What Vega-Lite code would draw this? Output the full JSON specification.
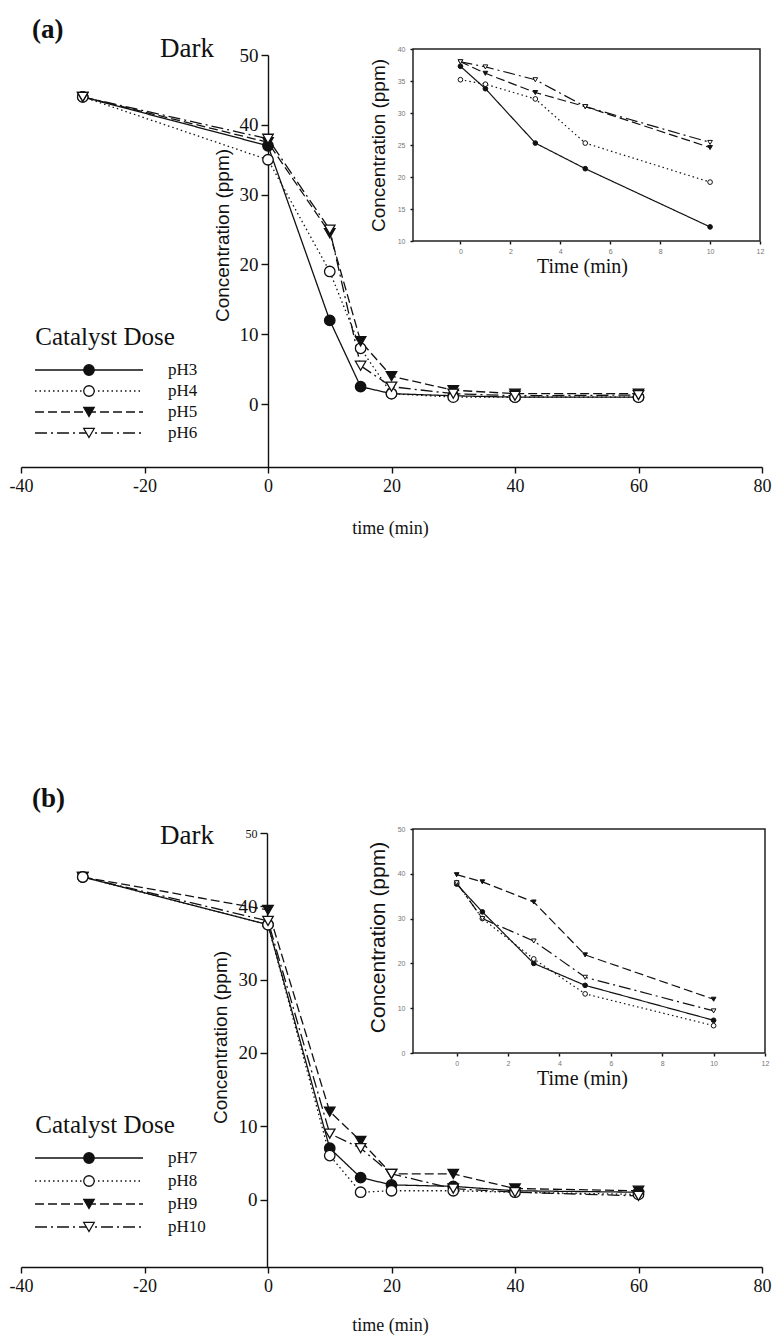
{
  "$schema": "https://vega.github.io/schema/vega-lite/v6.json",
  "width": 777,
  "height": 1340,
  "padding": 0,
  "autosize": {"type": "none"},
  "background": "white",
  "config": {
    "view": {"stroke": null},
    "axis": {"grid": false, "domainColor": "#111111", "domainWidth": 1.4, "tickColor": "#111111", "tickWidth": 1.4, "labelColor": "#111111", "titleColor": "#111111", "titleFontWeight": "normal", "labelFlush": false, "labelOverlap": false, "labelFont": "Liberation Serif", "titleFont": "Liberation Serif"}
  },
  "datasets": {
    "mainA": [
      {"series": "pH3", "time": -30, "conc": 44}, {"series": "pH3", "time": 0, "conc": 37}, {"series": "pH3", "time": 10, "conc": 12}, {"series": "pH3", "time": 15, "conc": 2.5}, {"series": "pH3", "time": 20, "conc": 1.5}, {"series": "pH3", "time": 30, "conc": 1.2}, {"series": "pH3", "time": 40, "conc": 1.0}, {"series": "pH3", "time": 60, "conc": 1.0},
      {"series": "pH4", "time": -30, "conc": 44}, {"series": "pH4", "time": 0, "conc": 35}, {"series": "pH4", "time": 10, "conc": 19}, {"series": "pH4", "time": 15, "conc": 8}, {"series": "pH4", "time": 20, "conc": 1.5}, {"series": "pH4", "time": 30, "conc": 1.0}, {"series": "pH4", "time": 40, "conc": 1.0}, {"series": "pH4", "time": 60, "conc": 1.0},
      {"series": "pH5", "time": -30, "conc": 44}, {"series": "pH5", "time": 0, "conc": 37.5}, {"series": "pH5", "time": 10, "conc": 24.5}, {"series": "pH5", "time": 15, "conc": 9}, {"series": "pH5", "time": 20, "conc": 4}, {"series": "pH5", "time": 30, "conc": 2}, {"series": "pH5", "time": 40, "conc": 1.5}, {"series": "pH5", "time": 60, "conc": 1.5},
      {"series": "pH6", "time": -30, "conc": 44}, {"series": "pH6", "time": 0, "conc": 38}, {"series": "pH6", "time": 10, "conc": 25}, {"series": "pH6", "time": 15, "conc": 5.5}, {"series": "pH6", "time": 20, "conc": 2.5}, {"series": "pH6", "time": 30, "conc": 1.5}, {"series": "pH6", "time": 40, "conc": 1.2}, {"series": "pH6", "time": 60, "conc": 1.3}
    ],
    "mainB": [
      {"series": "pH7", "time": -30, "conc": 44}, {"series": "pH7", "time": 0, "conc": 37.5}, {"series": "pH7", "time": 10, "conc": 7}, {"series": "pH7", "time": 15, "conc": 3}, {"series": "pH7", "time": 20, "conc": 2}, {"series": "pH7", "time": 30, "conc": 1.8}, {"series": "pH7", "time": 40, "conc": 1.2}, {"series": "pH7", "time": 60, "conc": 1.0},
      {"series": "pH8", "time": 0, "conc": 37.5}, {"series": "pH8", "time": 10, "conc": 6}, {"series": "pH8", "time": 15, "conc": 1}, {"series": "pH8", "time": 20, "conc": 1.2}, {"series": "pH8", "time": 30, "conc": 1.2}, {"series": "pH8", "time": 40, "conc": 1.0}, {"series": "pH8", "time": 60, "conc": 0.7},
      {"series": "pH9", "time": -30, "conc": 44}, {"series": "pH9", "time": 0, "conc": 39.5}, {"series": "pH9", "time": 10, "conc": 12}, {"series": "pH9", "time": 15, "conc": 8}, {"series": "pH9", "time": 20, "conc": 3.5}, {"series": "pH9", "time": 30, "conc": 3.5}, {"series": "pH9", "time": 40, "conc": 1.5}, {"series": "pH9", "time": 60, "conc": 1.2},
      {"series": "pH10", "time": -30, "conc": 44}, {"series": "pH10", "time": 0, "conc": 38}, {"series": "pH10", "time": 10, "conc": 9}, {"series": "pH10", "time": 15, "conc": 7}, {"series": "pH10", "time": 20, "conc": 3.5}, {"series": "pH10", "time": 30, "conc": 1.5}, {"series": "pH10", "time": 40, "conc": 1.0}, {"series": "pH10", "time": 60, "conc": 0.5},
      {"series": "pH8", "time": -30, "conc": 44}
    ],
    "insetA": [
      {"series": "pH3", "time": 0, "conc": 37.3}, {"series": "pH3", "time": 1, "conc": 33.8}, {"series": "pH3", "time": 3, "conc": 25.3}, {"series": "pH3", "time": 5, "conc": 21.3}, {"series": "pH3", "time": 10, "conc": 12.2},
      {"series": "pH4", "time": 0, "conc": 35.2}, {"series": "pH4", "time": 1, "conc": 34.5}, {"series": "pH4", "time": 3, "conc": 32.2}, {"series": "pH4", "time": 5, "conc": 25.3}, {"series": "pH4", "time": 10, "conc": 19.2},
      {"series": "pH5", "time": 0, "conc": 38}, {"series": "pH5", "time": 1, "conc": 36.2}, {"series": "pH5", "time": 3, "conc": 33.2}, {"series": "pH5", "time": 5, "conc": 31}, {"series": "pH5", "time": 10, "conc": 24.6},
      {"series": "pH6", "time": 0, "conc": 38}, {"series": "pH6", "time": 1, "conc": 37.2}, {"series": "pH6", "time": 3, "conc": 35.2}, {"series": "pH6", "time": 5, "conc": 31}, {"series": "pH6", "time": 10, "conc": 25.4}
    ],
    "insetB": [
      {"series": "pH7", "time": 0, "conc": 37.7}, {"series": "pH7", "time": 1, "conc": 31.5}, {"series": "pH7", "time": 3, "conc": 20}, {"series": "pH7", "time": 5, "conc": 15.1}, {"series": "pH7", "time": 10, "conc": 7.3},
      {"series": "pH8", "time": 0, "conc": 38}, {"series": "pH8", "time": 1, "conc": 30}, {"series": "pH8", "time": 3, "conc": 21}, {"series": "pH8", "time": 5, "conc": 13.2}, {"series": "pH8", "time": 10, "conc": 6.1},
      {"series": "pH9", "time": 0, "conc": 39.8}, {"series": "pH9", "time": 1, "conc": 38.2}, {"series": "pH9", "time": 3, "conc": 33.7}, {"series": "pH9", "time": 5, "conc": 21.9}, {"series": "pH9", "time": 10, "conc": 12},
      {"series": "pH10", "time": 0, "conc": 38}, {"series": "pH10", "time": 1, "conc": 30}, {"series": "pH10", "time": 3, "conc": 25}, {"series": "pH10", "time": 5, "conc": 16.9}, {"series": "pH10", "time": 10, "conc": 9.4}
    ],
    "legendA": [{"series": "pH3"}, {"series": "pH4"}, {"series": "pH5"}, {"series": "pH6"}],
    "legendB": [{"series": "pH7"}, {"series": "pH8"}, {"series": "pH9"}, {"series": "pH10"}]
  },
  "layer": [
    {
      "data": {"name": "mainA"},
      "layer": [
        {
          "mark": {"type": "line", "color": "#111111", "strokeWidth": 1.3},
          "encoding": {
            "x": {"field": "time", "type": "quantitative", "scale": {"domain": [-40, 80], "range": [21, 762], "nice": false, "zero": false},
              "axis": {"orient": "bottom", "offset": -873, "values": [-40, -20, 0, 20, 40, 60, 80], "labelExpr": "'' + datum.value", "tickSize": 6, "labelFontSize": 18, "labelPadding": 4, "title": "time (min)", "titleFontSize": 18, "titleX": 390, "titleY": 66, "titleBaseline": "alphabetic", "titleAlign": "center"}},
            "y": {"field": "conc", "type": "quantitative", "scale": {"domain": [-9, 50], "range": [467, 55], "nice": false, "zero": false},
              "axis": {"orient": "left", "offset": -268, "values": [0, 10, 20, 30, 40, 50], "tickSize": 7, "labelFontSize": 19, "labelPadding": 3, "title": "Concentration (ppm)", "titleFont": "Liberation Sans", "titleFontSize": 19, "titleX": -46, "titleY": 235, "titleAngle": -90, "titleBaseline": "middle", "titleAlign": "center"}},
            "strokeDash": {"field": "series", "type": "nominal", "legend": null, "scale": {"domain": ["pH3", "pH4", "pH5", "pH6", "pH7", "pH8", "pH9", "pH10"], "range": [[1, 0], [1.5, 3], [9, 4], [12, 4, 2, 4], [1, 0], [1.5, 3], [9, 4], [12, 4, 2, 4]]}}
          }
        },
        {
          "mark": {"type": "point", "filled": true, "opacity": 1, "stroke": "#111111", "strokeWidth": 1.3, "size": 110},
          "encoding": {
            "x": {"field": "time", "type": "quantitative", "scale": {"domain": [-40, 80], "range": [21, 762], "nice": false, "zero": false}},
            "y": {"field": "conc", "type": "quantitative", "scale": {"domain": [-9, 50], "range": [467, 55], "nice": false, "zero": false}},
            "shape": {"field": "series", "type": "nominal", "legend": null, "scale": {"domain": ["pH3", "pH4", "pH5", "pH6", "pH7", "pH8", "pH9", "pH10"], "range": ["circle", "circle", "triangle-down", "triangle-down", "circle", "circle", "triangle-down", "triangle-down"]}},
            "fill": {"field": "series", "type": "nominal", "legend": null, "scale": {"domain": ["pH3", "pH4", "pH5", "pH6", "pH7", "pH8", "pH9", "pH10"], "range": ["#111111", "#ffffff", "#111111", "#ffffff", "#111111", "#ffffff", "#111111", "#ffffff"]}}
          }
        },
        {
          "data": {"values": [{}]},
          "mark": {"type": "text", "text": "(a)", "font": "Liberation Serif", "fontSize": 27, "fontWeight": "bold", "align": "left", "baseline": "alphabetic", "color": "#111111"},
          "encoding": {
            "x": {"datum": -38.2, "type": "quantitative", "scale": {"domain": [-40, 80], "range": [21, 762], "nice": false, "zero": false}},
            "y": {"datum": 52.4, "type": "quantitative", "scale": {"domain": [-9, 50], "range": [467, 55], "nice": false, "zero": false}}
          }
        },
        {
          "data": {"values": [{}]},
          "mark": {"type": "text", "text": "Dark", "font": "Liberation Serif", "fontSize": 27, "align": "center", "baseline": "alphabetic", "color": "#111111"},
          "encoding": {
            "x": {"datum": -13.1, "type": "quantitative", "scale": {"domain": [-40, 80], "range": [21, 762], "nice": false, "zero": false}},
            "y": {"datum": 49.7, "type": "quantitative", "scale": {"domain": [-9, 50], "range": [467, 55], "nice": false, "zero": false}}
          }
        },
        {
          "data": {"values": [{}]},
          "mark": {"type": "text", "text": "Catalyst Dose", "font": "Liberation Serif", "fontSize": 25, "align": "left", "baseline": "alphabetic", "color": "#111111"},
          "encoding": {
            "x": {"datum": -37.7, "type": "quantitative", "scale": {"domain": [-40, 80], "range": [21, 762], "nice": false, "zero": false}},
            "y": {"datum": 8.47, "type": "quantitative", "scale": {"domain": [-9, 50], "range": [467, 55], "nice": false, "zero": false}}
          }
        }
      ]
    },
    {
      "data": {"name": "legendA"},
      "layer": [
        {
          "mark": {"type": "rule", "color": "#111111", "strokeWidth": 1.3},
          "encoding": {
            "x": {"datum": -37.73, "type": "quantitative", "scale": {"domain": [-40, 80], "range": [21, 762], "nice": false, "zero": false}, "axis": null},
            "x2": {"datum": -20.24},
            "y": {"field": "series", "type": "nominal", "scale": {"type": "point", "domain": ["pH3", "pH4", "pH5", "pH6"], "range": [370, 433], "padding": 0}, "axis": null},
            "strokeDash": {"field": "series", "type": "nominal", "legend": null, "scale": {"domain": ["pH3", "pH4", "pH5", "pH6", "pH7", "pH8", "pH9", "pH10"], "range": [[1, 0], [1.5, 3], [9, 4], [12, 4, 2, 4], [1, 0], [1.5, 3], [9, 4], [12, 4, 2, 4]]}}
          }
        },
        {
          "mark": {"type": "point", "filled": true, "opacity": 1, "stroke": "#111111", "strokeWidth": 1.3, "size": 110},
          "encoding": {
            "x": {"datum": -28.99, "type": "quantitative", "scale": {"domain": [-40, 80], "range": [21, 762], "nice": false, "zero": false}, "axis": null},
            "y": {"field": "series", "type": "nominal", "scale": {"type": "point", "domain": ["pH3", "pH4", "pH5", "pH6"], "range": [370, 433], "padding": 0}, "axis": null},
            "shape": {"field": "series", "type": "nominal", "legend": null, "scale": {"domain": ["pH3", "pH4", "pH5", "pH6", "pH7", "pH8", "pH9", "pH10"], "range": ["circle", "circle", "triangle-down", "triangle-down", "circle", "circle", "triangle-down", "triangle-down"]}},
            "fill": {"field": "series", "type": "nominal", "legend": null, "scale": {"domain": ["pH3", "pH4", "pH5", "pH6", "pH7", "pH8", "pH9", "pH10"], "range": ["#111111", "#ffffff", "#111111", "#ffffff", "#111111", "#ffffff", "#111111", "#ffffff"]}}
          }
        },
        {
          "mark": {"type": "text", "font": "Liberation Serif", "fontSize": 17, "align": "left", "baseline": "middle", "color": "#111111"},
          "encoding": {
            "x": {"datum": -16.19, "type": "quantitative", "scale": {"domain": [-40, 80], "range": [21, 762], "nice": false, "zero": false}, "axis": null},
            "y": {"field": "series", "type": "nominal", "scale": {"type": "point", "domain": ["pH3", "pH4", "pH5", "pH6"], "range": [370, 433], "padding": 0}, "axis": null},
            "text": {"field": "series", "type": "nominal"}
          }
        }
      ]
    },
    {
      "data": {"name": "insetA"},
      "layer": [
        {
          "data": {"values": [{}]},
          "mark": {"type": "rect", "filled": false, "stroke": "#222222", "strokeWidth": 1.5},
          "encoding": {
            "x": {"datum": -1.9, "type": "quantitative", "scale": {"domain": [-1.9, 12], "range": [413, 760], "nice": false, "zero": false}},
            "x2": {"datum": 12},
            "y": {"datum": 10, "type": "quantitative", "scale": {"domain": [10, 40], "range": [241, 49], "nice": false, "zero": false}},
            "y2": {"datum": 40}
          }
        },
        {
          "mark": {"type": "line", "color": "#111111", "strokeWidth": 1.2},
          "encoding": {
            "x": {"field": "time", "type": "quantitative", "scale": {"domain": [-1.9, 12], "range": [413, 760], "nice": false, "zero": false},
              "axis": {"orient": "bottom", "offset": -1099, "values": [0, 2, 4, 6, 8, 10, 12], "format": "d", "tickSize": 3, "domain": false, "labelFont": "Liberation Sans", "labelFontSize": 7, "labelColor": "#777777", "labelPadding": 3, "title": "Time (min)", "titleFontSize": 20, "titleX": 582, "titleY": 31, "titleBaseline": "alphabetic", "titleAlign": "center"}},
            "y": {"field": "conc", "type": "quantitative", "scale": {"domain": [10, 40], "range": [241, 49], "nice": false, "zero": false},
              "axis": {"orient": "left", "offset": -413, "values": [10, 15, 20, 25, 30, 35, 40], "format": "d", "tickSize": 3, "domain": false, "labelFont": "Liberation Sans", "labelFontSize": 7, "labelColor": "#777777", "labelPadding": 5, "title": "Concentration (ppm)", "titleFont": "Liberation Sans", "titleFontSize": 19, "titleX": -35, "titleY": 145, "titleAngle": -90, "titleBaseline": "middle", "titleAlign": "center"}},
            "strokeDash": {"field": "series", "type": "nominal", "legend": null, "scale": {"domain": ["pH3", "pH4", "pH5", "pH6", "pH7", "pH8", "pH9", "pH10"], "range": [[1, 0], [1.5, 3], [9, 4], [12, 4, 2, 4], [1, 0], [1.5, 3], [9, 4], [12, 4, 2, 4]]}}
          }
        },
        {
          "mark": {"type": "point", "filled": true, "opacity": 1, "stroke": "#111111", "strokeWidth": 1, "size": 22},
          "encoding": {
            "x": {"field": "time", "type": "quantitative", "scale": {"domain": [-1.9, 12], "range": [413, 760], "nice": false, "zero": false}},
            "y": {"field": "conc", "type": "quantitative", "scale": {"domain": [10, 40], "range": [241, 49], "nice": false, "zero": false}},
            "shape": {"field": "series", "type": "nominal", "legend": null, "scale": {"domain": ["pH3", "pH4", "pH5", "pH6", "pH7", "pH8", "pH9", "pH10"], "range": ["circle", "circle", "triangle-down", "triangle-down", "circle", "circle", "triangle-down", "triangle-down"]}},
            "fill": {"field": "series", "type": "nominal", "legend": null, "scale": {"domain": ["pH3", "pH4", "pH5", "pH6", "pH7", "pH8", "pH9", "pH10"], "range": ["#111111", "#ffffff", "#111111", "#ffffff", "#111111", "#ffffff", "#111111", "#ffffff"]}}
          }
        }
      ]
    },
    {
      "data": {"name": "mainB"},
      "layer": [
        {
          "mark": {"type": "line", "color": "#111111", "strokeWidth": 1.3},
          "encoding": {
            "x": {"field": "time", "type": "quantitative", "scale": {"domain": [-40, 80], "range": [21, 762], "nice": false, "zero": false},
              "axis": {"orient": "bottom", "offset": -73, "values": [-40, -20, 0, 20, 40, 60, 80], "labelExpr": "'' + datum.value", "tickSize": 6, "labelFontSize": 18, "labelPadding": 4, "title": "time (min)", "titleFontSize": 18, "titleX": 390, "titleY": 63, "titleBaseline": "alphabetic", "titleAlign": "center"}},
            "y": {"field": "conc", "type": "quantitative", "scale": {"domain": [-9.2, 50], "range": [1267, 833], "nice": false, "zero": false},
              "axis": {"orient": "left", "offset": -267, "values": [0, 10, 20, 30, 40, 50], "tickSize": 7, "labelFontSize": {"expr": "datum.value == 50 ? 12 : 19"}, "labelPadding": 3, "title": "Concentration (ppm)", "titleFont": "Liberation Sans", "titleFontSize": 19, "titleX": -47, "titleY": 1037, "titleAngle": -90, "titleBaseline": "middle", "titleAlign": "center"}},
            "strokeDash": {"field": "series", "type": "nominal", "legend": null, "scale": {"domain": ["pH3", "pH4", "pH5", "pH6", "pH7", "pH8", "pH9", "pH10"], "range": [[1, 0], [1.5, 3], [9, 4], [12, 4, 2, 4], [1, 0], [1.5, 3], [9, 4], [12, 4, 2, 4]]}}
          }
        },
        {
          "mark": {"type": "point", "filled": true, "opacity": 1, "stroke": "#111111", "strokeWidth": 1.3, "size": 110},
          "encoding": {
            "x": {"field": "time", "type": "quantitative", "scale": {"domain": [-40, 80], "range": [21, 762], "nice": false, "zero": false}},
            "y": {"field": "conc", "type": "quantitative", "scale": {"domain": [-9.2, 50], "range": [1267, 833], "nice": false, "zero": false}},
            "shape": {"field": "series", "type": "nominal", "legend": null, "scale": {"domain": ["pH3", "pH4", "pH5", "pH6", "pH7", "pH8", "pH9", "pH10"], "range": ["circle", "circle", "triangle-down", "triangle-down", "circle", "circle", "triangle-down", "triangle-down"]}},
            "fill": {"field": "series", "type": "nominal", "legend": null, "scale": {"domain": ["pH3", "pH4", "pH5", "pH6", "pH7", "pH8", "pH9", "pH10"], "range": ["#111111", "#ffffff", "#111111", "#ffffff", "#111111", "#ffffff", "#111111", "#ffffff"]}}
          }
        },
        {
          "data": {"values": [{}]},
          "mark": {"type": "text", "text": "(b)", "font": "Liberation Serif", "fontSize": 27, "fontWeight": "bold", "align": "left", "baseline": "alphabetic", "color": "#111111"},
          "encoding": {
            "x": {"datum": -38.2, "type": "quantitative", "scale": {"domain": [-40, 80], "range": [21, 762], "nice": false, "zero": false}},
            "y": {"datum": 53.5, "type": "quantitative", "scale": {"domain": [-9.2, 50], "range": [1267, 833], "nice": false, "zero": false}}
          }
        },
        {
          "data": {"values": [{}]},
          "mark": {"type": "text", "text": "Dark", "font": "Liberation Serif", "fontSize": 27, "align": "center", "baseline": "alphabetic", "color": "#111111"},
          "encoding": {
            "x": {"datum": -13.1, "type": "quantitative", "scale": {"domain": [-40, 80], "range": [21, 762], "nice": false, "zero": false}},
            "y": {"datum": 48.5, "type": "quantitative", "scale": {"domain": [-9.2, 50], "range": [1267, 833], "nice": false, "zero": false}}
          }
        },
        {
          "data": {"values": [{}]},
          "mark": {"type": "text", "text": "Catalyst Dose", "font": "Liberation Serif", "fontSize": 25, "align": "left", "baseline": "alphabetic", "color": "#111111"},
          "encoding": {
            "x": {"datum": -37.7, "type": "quantitative", "scale": {"domain": [-40, 80], "range": [21, 762], "nice": false, "zero": false}},
            "y": {"datum": 9.08, "type": "quantitative", "scale": {"domain": [-9.2, 50], "range": [1267, 833], "nice": false, "zero": false}}
          }
        }
      ]
    },
    {
      "data": {"name": "legendB"},
      "layer": [
        {
          "mark": {"type": "rule", "color": "#111111", "strokeWidth": 1.3},
          "encoding": {
            "x": {"datum": -37.73, "type": "quantitative", "scale": {"domain": [-40, 80], "range": [21, 762], "nice": false, "zero": false}, "axis": null},
            "x2": {"datum": -20.24},
            "y": {"field": "series", "type": "nominal", "scale": {"type": "point", "domain": ["pH7", "pH8", "pH9", "pH10"], "range": [1158, 1227], "padding": 0}, "axis": null},
            "strokeDash": {"field": "series", "type": "nominal", "legend": null, "scale": {"domain": ["pH3", "pH4", "pH5", "pH6", "pH7", "pH8", "pH9", "pH10"], "range": [[1, 0], [1.5, 3], [9, 4], [12, 4, 2, 4], [1, 0], [1.5, 3], [9, 4], [12, 4, 2, 4]]}}
          }
        },
        {
          "mark": {"type": "point", "filled": true, "opacity": 1, "stroke": "#111111", "strokeWidth": 1.3, "size": 110},
          "encoding": {
            "x": {"datum": -28.99, "type": "quantitative", "scale": {"domain": [-40, 80], "range": [21, 762], "nice": false, "zero": false}, "axis": null},
            "y": {"field": "series", "type": "nominal", "scale": {"type": "point", "domain": ["pH7", "pH8", "pH9", "pH10"], "range": [1158, 1227], "padding": 0}, "axis": null},
            "shape": {"field": "series", "type": "nominal", "legend": null, "scale": {"domain": ["pH3", "pH4", "pH5", "pH6", "pH7", "pH8", "pH9", "pH10"], "range": ["circle", "circle", "triangle-down", "triangle-down", "circle", "circle", "triangle-down", "triangle-down"]}},
            "fill": {"field": "series", "type": "nominal", "legend": null, "scale": {"domain": ["pH3", "pH4", "pH5", "pH6", "pH7", "pH8", "pH9", "pH10"], "range": ["#111111", "#ffffff", "#111111", "#ffffff", "#111111", "#ffffff", "#111111", "#ffffff"]}}
          }
        },
        {
          "mark": {"type": "text", "font": "Liberation Serif", "fontSize": 17, "align": "left", "baseline": "middle", "color": "#111111"},
          "encoding": {
            "x": {"datum": -16.19, "type": "quantitative", "scale": {"domain": [-40, 80], "range": [21, 762], "nice": false, "zero": false}, "axis": null},
            "y": {"field": "series", "type": "nominal", "scale": {"type": "point", "domain": ["pH7", "pH8", "pH9", "pH10"], "range": [1158, 1227], "padding": 0}, "axis": null},
            "text": {"field": "series", "type": "nominal"}
          }
        }
      ]
    },
    {
      "data": {"name": "insetB"},
      "layer": [
        {
          "data": {"values": [{}]},
          "mark": {"type": "rect", "filled": false, "stroke": "#222222", "strokeWidth": 1.5},
          "encoding": {
            "x": {"datum": -1.7, "type": "quantitative", "scale": {"domain": [-1.7, 12], "range": [413, 765], "nice": false, "zero": false}},
            "x2": {"datum": 12},
            "y": {"datum": 0, "type": "quantitative", "scale": {"domain": [0, 50], "range": [1053, 829], "nice": false, "zero": false}},
            "y2": {"datum": 50}
          }
        },
        {
          "mark": {"type": "line", "color": "#111111", "strokeWidth": 1.2},
          "encoding": {
            "x": {"field": "time", "type": "quantitative", "scale": {"domain": [-1.7, 12], "range": [413, 765], "nice": false, "zero": false},
              "axis": {"orient": "bottom", "offset": -287, "values": [0, 2, 4, 6, 8, 10, 12], "format": "d", "tickSize": 3, "domain": false, "labelFont": "Liberation Sans", "labelFontSize": 7, "labelColor": "#777777", "labelPadding": 3, "title": "Time (min)", "titleFontSize": 20, "titleX": 582, "titleY": 31, "titleBaseline": "alphabetic", "titleAlign": "center"}},
            "y": {"field": "conc", "type": "quantitative", "scale": {"domain": [0, 50], "range": [1053, 829], "nice": false, "zero": false},
              "axis": {"orient": "left", "offset": -413, "values": [0, 10, 20, 30, 40, 50], "format": "d", "tickSize": 3, "domain": false, "labelFont": "Liberation Sans", "labelFontSize": 7, "labelColor": "#777777", "labelPadding": 5, "title": "Concentration (ppm)", "titleFont": "Liberation Sans", "titleFontSize": 21, "titleX": -35, "titleY": 937, "titleAngle": -90, "titleBaseline": "middle", "titleAlign": "center"}},
            "strokeDash": {"field": "series", "type": "nominal", "legend": null, "scale": {"domain": ["pH3", "pH4", "pH5", "pH6", "pH7", "pH8", "pH9", "pH10"], "range": [[1, 0], [1.5, 3], [9, 4], [12, 4, 2, 4], [1, 0], [1.5, 3], [9, 4], [12, 4, 2, 4]]}}
          }
        },
        {
          "mark": {"type": "point", "filled": true, "opacity": 1, "stroke": "#111111", "strokeWidth": 1, "size": 22},
          "encoding": {
            "x": {"field": "time", "type": "quantitative", "scale": {"domain": [-1.7, 12], "range": [413, 765], "nice": false, "zero": false}},
            "y": {"field": "conc", "type": "quantitative", "scale": {"domain": [0, 50], "range": [1053, 829], "nice": false, "zero": false}},
            "shape": {"field": "series", "type": "nominal", "legend": null, "scale": {"domain": ["pH3", "pH4", "pH5", "pH6", "pH7", "pH8", "pH9", "pH10"], "range": ["circle", "circle", "triangle-down", "triangle-down", "circle", "circle", "triangle-down", "triangle-down"]}},
            "fill": {"field": "series", "type": "nominal", "legend": null, "scale": {"domain": ["pH3", "pH4", "pH5", "pH6", "pH7", "pH8", "pH9", "pH10"], "range": ["#111111", "#ffffff", "#111111", "#ffffff", "#111111", "#ffffff", "#111111", "#ffffff"]}}
          }
        }
      ]
    }
  ],
  "resolve": {"scale": {"x": "independent", "y": "independent"}, "axis": {"x": "independent", "y": "independent"}}
}
